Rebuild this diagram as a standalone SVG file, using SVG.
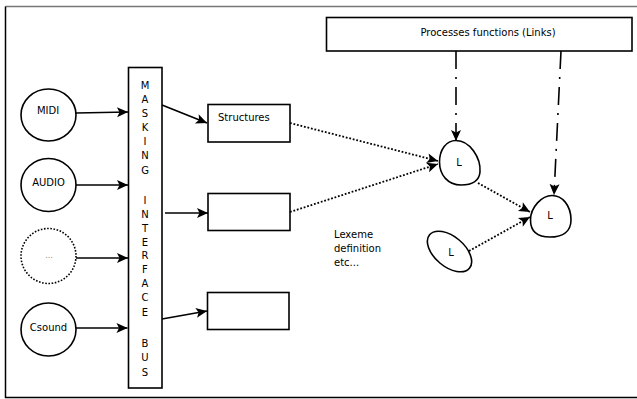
<svg xmlns="http://www.w3.org/2000/svg" width="637" height="399" viewBox="0 0 637 399">
<style>
  .n { fill: #fff; stroke: #000; stroke-width: 1.6; }
  .dotc { fill: #fff; stroke: #000; stroke-width: 1.6; stroke-dasharray: 1.6 1.6; }
  .t { font-family: "DejaVu Sans", "Liberation Sans", sans-serif; font-size: 10px; fill: #000; }
  .c { text-anchor: middle; }
  .solid { fill: none; stroke: #000; stroke-width: 1.6; marker-end: url(#ah); }
  .dots { fill: none; stroke: #000; stroke-width: 1.8; stroke-dasharray: 1.8 1.8; marker-end: url(#ah); }
  .dashdot { fill: none; stroke: #000; stroke-width: 1.6; stroke-dasharray: 18 8 2 8; marker-end: url(#ah); }
</style>
<defs>
  <marker id="ah" markerUnits="userSpaceOnUse" markerWidth="14" markerHeight="12" refX="0" refY="0" viewBox="-12 -6 14 12" orient="auto" overflow="visible">
    <path d="M0,0 L-11,-5 L-8.5,0 L-11,5 Z" fill="#000" stroke="none"/>
  </marker>
</defs>
<rect width="637" height="399" fill="#fff"/>
<g id="frame">
  <path d="M637,6.5 H5.5" fill="none" stroke="#777" stroke-width="1.5"/>
  <path d="M5.5,6.5 V397.5 H637" fill="none" stroke="#000" stroke-width="1.5"/>
</g>
<g id="midi"><ellipse class="n" cx="48.5" cy="115" rx="27.5" ry="26"/><text class="t c" x="48" y="113.5">MIDI</text></g>
<g id="audio"><ellipse class="n" cx="48.5" cy="185" rx="27.5" ry="26.5"/><text class="t c" x="48.5" y="186">AUDIO</text></g>
<g id="more"><ellipse class="dotc" cx="48.5" cy="256" rx="27.5" ry="27.5"/><text class="t c" x="49" y="258" style="fill:#888;font-size:8px">...</text></g>
<g id="csound"><ellipse class="n" cx="48.5" cy="329.5" rx="27.5" ry="26.5"/><text class="t c" x="48.5" y="331">Csound</text></g>
<g id="bus">
  <rect class="n" x="128.5" y="67.5" width="33.5" height="320.5"/>
  <text class="t c" x="145" y="89">M</text>
  <text class="t c" x="145" y="103">A</text>
  <text class="t c" x="145" y="117">S</text>
  <text class="t c" x="145" y="131">K</text>
  <text class="t c" x="145" y="145">I</text>
  <text class="t c" x="145" y="159">N</text>
  <text class="t c" x="145" y="174">G</text>
  <text class="t c" x="145" y="204">I</text>
  <text class="t c" x="145" y="218">N</text>
  <text class="t c" x="145" y="232">T</text>
  <text class="t c" x="145" y="246">E</text>
  <text class="t c" x="145" y="259">R</text>
  <text class="t c" x="145" y="273">F</text>
  <text class="t c" x="145" y="287">A</text>
  <text class="t c" x="145" y="301">C</text>
  <text class="t c" x="145" y="316">E</text>
  <text class="t c" x="145" y="347">B</text>
  <text class="t c" x="145" y="361">U</text>
  <text class="t c" x="145" y="376">S</text>
</g>
<g id="structures"><rect class="n" x="208" y="104.5" width="82" height="37.5"/><text class="t" x="218" y="121">Structures</text></g>
<g id="box2"><rect class="n" x="208" y="193.5" width="82" height="37"/></g>
<g id="box3"><rect class="n" x="207.5" y="292.5" width="81.5" height="37"/></g>
<g id="processes"><rect class="n" x="326.5" y="17.5" width="305.5" height="33.5"/><text class="t c" x="488" y="36">Processes functions (Links)</text></g>
<g id="lexeme-note">
  <text class="t" x="334" y="238">Lexeme</text>
  <text class="t" x="334" y="252">definition</text>
  <text class="t" x="334" y="266">etc...</text>
</g>
<g id="L1"><path class="n" d="M456,140.5 C470,140.5 481,158 480,172 C479,183 470,185 461,185 C448,185 439.5,175 439.5,162 C439.5,150 446,140.5 456,140.5 Z"/><text class="t c" x="459" y="166">L</text></g>
<g id="L2"><path class="n" d="M552,195.5 C562,195.5 571,205 571,220 C571,232 562,237 550,237 C538,237 530.5,232 530.5,220 C530.5,207 542,195.5 552,195.5 Z"/><text class="t c" x="550" y="219">L</text></g>
<g id="L3"><ellipse class="n" cx="449.5" cy="251.5" rx="26" ry="15" transform="rotate(40 449.5 251.5)"/><text class="t c" x="451" y="256">L</text></g>
<g id="connectors">
  <path class="solid" d="M76,113 L128,112"/>
  <path class="solid" d="M76,185 L128,185"/>
  <path class="solid" d="M76,258 L128,258"/>
  <path class="solid" d="M76,328 L127.5,328"/>
  <path class="solid" d="M162,105 L207,123"/>
  <path class="solid" d="M165,213 L208,213"/>
  <path class="solid" d="M162,319 L207,311"/>
  <path class="dots" d="M290,123 L438,161"/>
  <path class="dots" d="M290,212 L438,164"/>
  <path class="dots" d="M478,183 L530,212"/>
  <path class="dots" d="M469,251 L530,217"/>
  <path class="dashdot" d="M456,51 L456,141"/>
  <path class="dashdot" d="M561,51 L554,195"/>
</g>
</svg>
